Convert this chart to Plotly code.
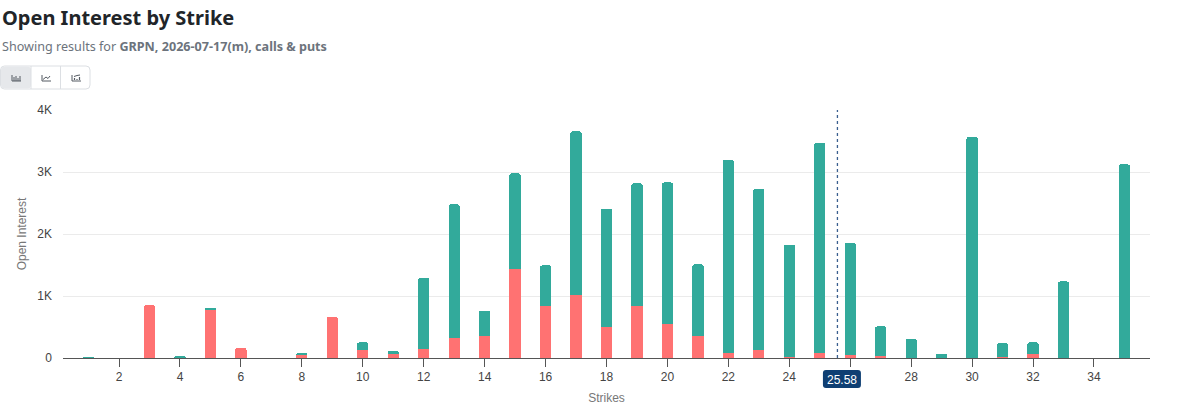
import plotly.graph_objects as go

strikes = list(range(1, 36))
puts = [0, 0, 850, 5, 780, 165, 0, 50, 660, 125, 70, 150, 330, 360, 1440, 845, 1010,
        500, 840, 550, 360, 80, 125, 10, 80, 55, 35, 0, 0, 0, 15, 70, 0, 0, 0]
calls = [10, 0, 0, 15, 15, 0, 0, 30, 0, 127, 48, 1140, 2147, 403, 1537, 649, 2645,
         1908, 1976, 2282, 1150, 3113, 2601, 1817, 3388, 1805, 475, 306, 65, 3569, 221,
         182, 1235, 0, 3123]
spot_price = 25.58
x_ticks = list(range(2, 36, 2))
x_tick_text = ["" if t == 26 else str(t) for t in x_ticks]
y_ticks = [0, 1000, 2000, 3000, 4000]
y_tick_text = ["0", "1K", "2K", "3K", "4K"]

TEAL = "#32aa9b"
RED = "#ff7272"

W, H = 1200, 416
ML, MR, MT, MB = 63, 50, 110, 58
PW, PH = W - ML - MR, H - MT - MB


def px(x):
    return (x - ML) / PW


def py(y):
    return (H - MB - y) / PH


def rrect(x0, y0, x1, y1, r):
    return (f"M {px(x0 + r)} {py(y0)} L {px(x1 - r)} {py(y0)} Q {px(x1)} {py(y0)} {px(x1)} {py(y0 + r)} "
            f"L {px(x1)} {py(y1 - r)} Q {px(x1)} {py(y1)} {px(x1 - r)} {py(y1)} "
            f"L {px(x0 + r)} {py(y1)} Q {px(x0)} {py(y1)} {px(x0)} {py(y1 - r)} "
            f"L {px(x0)} {py(y0 + r)} Q {px(x0)} {py(y0)} {px(x0 + r)} {py(y0)} Z")


fig = go.Figure()
fig.add_trace(go.Bar(x=strikes, y=[p if p else None for p in puts], name="Puts",
                     marker=dict(color=RED, line=dict(width=0)), width=0.37))
fig.add_trace(go.Bar(x=strikes, y=[c if c else None for c in calls], name="Calls",
                     marker=dict(color=TEAL, line=dict(width=0)), width=0.37))

shapes = []
# spot line
shapes.append(dict(type="line", xref="x", yref="paper", x0=spot_price, x1=spot_price,
                   y0=0, y1=1, line=dict(color="#3a5f8f", width=1.3, dash="dot")))
# spot label box (rounded)
spot_px = ML + (spot_price - 0.16) / (35.84 - 0.16) * PW
shapes.append(dict(type="path", xref="paper", yref="paper",
                   path=rrect(spot_px - 14.5, 370, spot_px + 23.5, 388, 3),
                   line=dict(width=0), fillcolor="#0f3f73", layer="above"))
# button group
shapes.append(dict(type="path", xref="paper", yref="paper", path=rrect(0.5, 66, 90, 89, 4),
                   line=dict(color="#dcdfe3", width=1), fillcolor="white", layer="above"))
shapes.append(dict(type="path", xref="paper", yref="paper", path=rrect(1, 66.5, 31, 88.5, 3.5),
                   line=dict(width=0), fillcolor="#e6e8eb", layer="above"))
for bx in (31, 60.5):
    shapes.append(dict(type="line", xref="paper", yref="paper", x0=px(bx), x1=px(bx), y0=py(89), y1=py(66),
                       line=dict(color="#dcdfe3", width=1), layer="above"))
icon_col = "#555b63"
# icon 1: bar chart glyph
p1 = f"M {px(12)} {py(75)} L {px(12)} {py(81)} L {px(21)} {py(81)}"
shapes.append(dict(type="path", xref="paper", yref="paper", path=p1, line=dict(color=icon_col, width=1), layer="above"))
for bx, top in ((14, 77), (16, 76), (18, 78), (20, 76)):
    shapes.append(dict(type="line", xref="paper", yref="paper", x0=px(bx), x1=px(bx), y0=py(81), y1=py(top),
                       line=dict(color=icon_col, width=1), layer="above"))
# icon 2: line chart glyph
p2 = (f"M {px(42)} {py(75)} L {px(42)} {py(81)} L {px(51)} {py(81)} "
      f"M {px(43)} {py(79.5)} L {px(46)} {py(77)} L {px(48)} {py(78.5)} L {px(50)} {py(76)}")
shapes.append(dict(type="path", xref="paper", yref="paper", path=p2, line=dict(color=icon_col, width=1), layer="above"))
# icon 3: mixed glyph
p3 = f"M {px(72)} {py(75)} L {px(72)} {py(81)} L {px(81)} {py(81)}"
shapes.append(dict(type="path", xref="paper", yref="paper", path=p3, line=dict(color=icon_col, width=1), layer="above"))
for bx, top in ((74.5, 78), (77, 79), (79.5, 77)):
    shapes.append(dict(type="line", xref="paper", yref="paper", x0=px(bx), x1=px(bx), y0=py(80), y1=py(top),
                       line=dict(color=icon_col, width=1.2), layer="above"))
shapes.append(dict(type="path", xref="paper", yref="paper",
                   path=f"M {px(74)} {py(76.5)} L {px(77)} {py(75.5)} L {px(80)} {py(75)}",
                   line=dict(color=icon_col, width=1), layer="above"))

annotations = [
    dict(text="<b>Open Interest by Strike</b>", xref="paper", yref="paper", x=px(0), y=py(17),
         xanchor="left", yanchor="middle", showarrow=False,
         font=dict(family="Noto Sans", size=20, color="#212529")),
    dict(text="Showing results for <b>GRPN, 2026-07-17(m), calls &amp; puts</b>", xref="paper", yref="paper",
         x=px(0), y=py(46), xanchor="left", yanchor="middle", showarrow=False,
         font=dict(family="Noto Sans", size=12.6, color="#6c737c")),
    dict(text=f"{spot_price:.2f}", xref="paper", yref="paper", x=px(spot_px + 4.5), y=py(379.5),
         xanchor="center", yanchor="middle", showarrow=False,
         font=dict(family="Liberation Sans", size=12, color="white")),
]

fig.update_layout(
    width=W, height=H,
    margin=dict(l=ML, r=MR, t=MT, b=MB),
    barmode="stack",
    barcornerradius=2,
    showlegend=False,
    plot_bgcolor="white", paper_bgcolor="white",
    font=dict(family="Liberation Sans", size=12, color="#444"),
    shapes=shapes,
    annotations=annotations,
    xaxis=dict(range=[0.16, 35.84], tickvals=x_ticks, ticktext=x_tick_text, ticks="outside", ticklen=8,
               tickcolor="#555", showline=True, linecolor="#555", linewidth=1, showgrid=False, zeroline=False,
               tickfont=dict(size=12, color="#444"),
               title=dict(text="Strikes", font=dict(size=12, color="#777"), standoff=10)),
    yaxis=dict(range=[0, 4000], tickvals=y_ticks, ticktext=y_tick_text, showgrid=True,
               gridcolor="#ebebeb", gridwidth=1, zeroline=False, showline=False, ticks="",
               ticklabelstandoff=10,
               tickfont=dict(size=12, color="#444"),
               title=dict(text="Open Interest", font=dict(size=12, color="#777"), standoff=8)),
)

fig.write_html("out.html")
